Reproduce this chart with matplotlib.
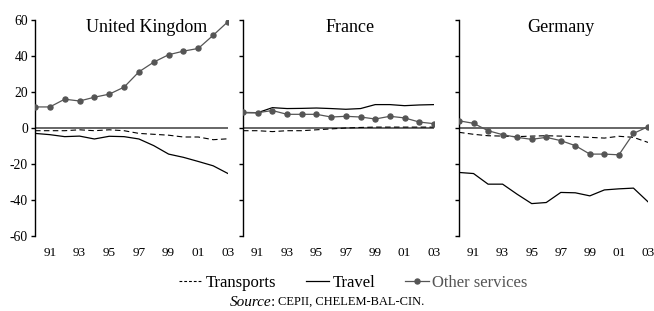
import matplotlib
matplotlib.use("Agg")
import matplotlib.pyplot as plt
from matplotlib.lines import Line2D

plt.rcParams['font.family'] = ['Liberation Serif', 'DejaVu Serif']
plt.rcParams['axes.unicode_minus'] = False

years = list(range(1990, 2004))
countries = ['United Kingdom', 'France', 'Germany']

uk_transports = [-1.5, -1.5, -1.5, -1, -1.5, -1, -1.5, -3, -3.5, -4, -5, -5, -6.5, -6]
uk_travel = [-3.0, -3.7, -4.8, -4.5, -6.1, -4.6, -4.8, -6.1, -9.8, -14.5, -16.3, -18.6, -21, -25.3]
uk_other = [11.7, 11.7, 16, 15, 17.1, 18.8, 22.7, 31.2, 36.6, 40.7, 42.7, 44.2, 51.5, 59.1]

fr_transports = [-1.5, -1.5, -2, -1.5, -1.5, -1, -0.5, 0, 0.3, 0.5, 0.5, 0.5, 0.5, 0.5]
fr_travel = [8.5, 8.5, 11.3, 10.8, 10.9, 11.1, 10.8, 10.4, 10.8, 13.0, 13.0, 12.4, 12.8, 13.0]
fr_other = [8.7, 8.5, 9.7, 7.6, 7.6, 7.6, 6.1, 6.5, 6.1, 5.0, 6.5, 5.6, 3.3, 2.4]

de_transports = [-2.4, -3.5, -4.3, -4.5, -4.8, -4.5, -4.3, -4.5, -4.8, -5.2, -5.6, -4.6, -5.2, -8]
de_travel = [-24.7, -25.3, -31.2, -31.2, -36.8, -42, -41.4, -35.8, -36, -37.7, -34.4, -33.8, -33.4, -41]
de_other = [4, 2.6, -1.5, -3.7, -5.2, -6.3, -5.2, -7, -9.8, -14.5, -14.5, -14.9, -3, 0.7]

data = [
    (uk_transports, uk_travel, uk_other),
    (fr_transports, fr_travel, fr_other),
    (de_transports, de_travel, de_other),
]

W, H = 654, 311
fig = plt.figure(figsize=(W / 100, H / 100), dpi=100)

lefts = [35, 243, 459]
widths = [193, 191, 189]
title_x = [0.58, 0.56, 0.54]
gray = '#555555'

for i in range(3):
    ax = fig.add_axes([lefts[i] / W, 1 - 236 / H, widths[i] / W, 216 / H])
    tr, tv, ot = data[i]
    ax.axhline(0, color='#666666', lw=1.4, zorder=1)
    ax.plot(years, tr, color='black', lw=0.8, dashes=(5, 3), zorder=2)
    ax.plot(years, tv, color='black', lw=0.9, zorder=3)
    ax.plot(years, ot, color=gray, lw=0.9, marker='o', ms=3.6, zorder=4)
    ax.set_xlim(1990, 2003)
    ax.set_ylim(-60, 60)
    for s in ['top', 'right', 'bottom']:
        ax.spines[s].set_visible(False)
    ax.spines['left'].set_linewidth(1.0)
    ax.set_yticks([-60, -40, -20, 0, 20, 40, 60])
    ax.set_xticks(range(1991, 2004, 2))
    ax.set_xticklabels(['91', '93', '95', '97', '99', '01', '03'])
    ax.tick_params(axis='x', length=0, labelsize=9.5, pad=8)
    ax.tick_params(axis='y', length=3, width=1.0, labelsize=9.8, pad=2)
    if i > 0:
        ax.set_yticklabels([])
    ax.text(title_x[i], 56, countries[i], transform=ax.get_yaxis_transform(),
            ha='center', va='center', fontsize=13)
    ax.patch.set_alpha(0)

handles = [
    Line2D([], [], color='black', lw=0.8, dashes=(2.5, 1.8)),
    Line2D([], [], color='black', lw=0.9),
    Line2D([], [], color=gray, lw=0.9, marker='o', ms=3.6),
]
leg = fig.legend(handles, ['Transports', 'Travel', 'Other services'],
                 loc='center', bbox_to_anchor=(353 / W, 1 - 283 / H),
                 ncol=3, frameon=False, fontsize=12, handlelength=1.4,
                 handletextpad=0.2, columnspacing=1.8, borderaxespad=0)
leg.get_texts()[2].set_color(gray)

fig.text(230 / W, 1 - 302 / H, 'Source', style='italic', fontsize=11,
         ha='left', va='center')
fig.text(271 / W, 1 - 302 / H, ':', fontsize=11, ha='left', va='center')
fig.text(278 / W, 1 - 302 / H, 'CEPII, CHELEM-BAL-CIN.', fontsize=9,
         ha='left', va='center')

fig.savefig('out.png', dpi=100)
